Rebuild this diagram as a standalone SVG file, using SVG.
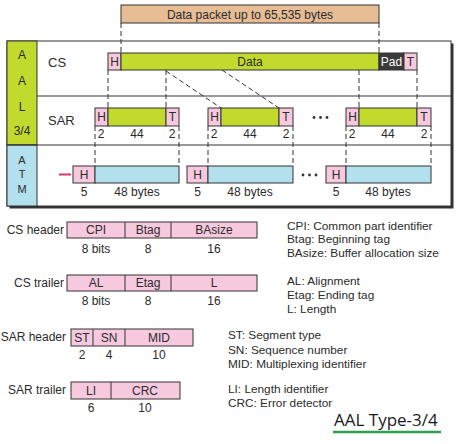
<svg xmlns="http://www.w3.org/2000/svg" width="462" height="444" viewBox="0 0 462 444">
<defs>
<style>
text{font-family:"Liberation Sans",Arial,sans-serif;fill:#2b2b2b;dominant-baseline:central;}
.c{text-anchor:middle;}
.e{text-anchor:end;}
.f12{font-size:12px;}
.f11{font-size:11.8px;}
.f13{font-size:13px;}
.pk{fill:#f6c9de;stroke:#333;stroke-width:1;}
.gr{fill:#c2d92e;stroke:#333;stroke-width:1;}
.bl{fill:#b2e0ec;stroke:#333;stroke-width:1;}
.dk{fill:#3b3b3b;stroke:#333;stroke-width:1;}
.dash{stroke:#333;stroke-width:1;stroke-dasharray:5 3;fill:none;}
.ln{stroke:#333;stroke-width:1;fill:none;}
</style>
</defs>
<rect width="462" height="444" fill="#fff"/>

<g id="packet">
<rect x="121" y="5" width="258" height="18" fill="#e7bd95" stroke="#333" stroke-width="1"/>
<text class="c f12" x="250" y="15">Data packet up to 65,535 bytes</text>
</g>

<g id="frame">
<rect x="9.5" y="43.5" width="444" height="165" fill="#333"/>
<rect x="7" y="41" width="444" height="165" fill="#fff" stroke="#333" stroke-width="1"/>
<rect x="7" y="41" width="30" height="104" fill="#c2d92e" stroke="#333" stroke-width="1"/>
<rect x="7" y="145" width="30" height="61" fill="#b2e0ec" stroke="#333" stroke-width="1"/>
<line class="ln" x1="37" y1="96" x2="451" y2="96"/>
<line class="ln" x1="7" y1="145" x2="451" y2="145"/>
<text class="c f12" x="22" y="55">A</text>
<text class="c f12" x="22" y="81">A</text>
<text class="c f12" x="22" y="107">L</text>
<text class="c f12" x="22" y="131">3/4</text>
<text class="c" style="font-size:11px" x="22" y="160">A</text>
<text class="c" style="font-size:11px" x="22" y="174">T</text>
<text class="c" style="font-size:11px" x="22" y="188.5">M</text>
<text class="f13" x="48" y="62">CS</text>
<text class="f13" x="48" y="120">SAR</text>
</g>

<g id="connectors">
<line class="dash" x1="121" y1="23" x2="121" y2="53"/>
<line class="dash" x1="379" y1="23" x2="379" y2="53"/>
<line class="dash" x1="108" y1="70" x2="108" y2="108"/>
<line class="dash" x1="166" y1="70" x2="166" y2="108"/>
<line class="dash" x1="166" y1="71" x2="221" y2="108"/>
<line class="dash" x1="222" y1="70" x2="279" y2="108"/>
<line class="dash" x1="359" y1="70" x2="359" y2="108"/>
<line class="dash" x1="417" y1="70" x2="417" y2="108"/>
<line class="dash" x1="95" y1="126" x2="95" y2="166"/>
<line class="dash" x1="179" y1="126" x2="179" y2="166"/>
<line class="dash" x1="208" y1="126" x2="208" y2="166"/>
<line class="dash" x1="293" y1="126" x2="293" y2="166"/>
<line class="dash" x1="346" y1="126" x2="346" y2="166"/>
<line class="dash" x1="431" y1="126" x2="431" y2="166"/>
<line x1="59" y1="174.5" x2="71" y2="174.5" stroke="#d6336c" stroke-width="2"/>
</g>

<g id="cs-bar">
<rect class="pk" x="108" y="53" width="13" height="17"/>
<rect class="gr" x="121" y="53" width="258" height="17"/>
<rect class="dk" x="379" y="53" width="25" height="17"/>
<rect class="pk" x="404" y="53" width="13" height="17"/>
<text class="c f12" x="114.5" y="61.5">H</text>
<text class="c f12" x="250" y="61.5">Data</text>
<text class="c f12" x="391.5" y="61.5" style="fill:#fff">Pad</text>
<text class="c f12" x="410.5" y="61.5">T</text>
</g>

<g id="sar-seg1">
<rect class="pk" x="95" y="108" width="13" height="18"/>
<rect class="gr" x="108" y="108" width="58" height="18"/>
<rect class="pk" x="166" y="108" width="13" height="18"/>
<text class="c f12" x="101.5" y="117">H</text>
<text class="c f12" x="172.5" y="117">T</text>
<text class="c f12" x="101" y="134">2</text>
<text class="c f12" x="137" y="134">44</text>
<text class="c f12" x="172" y="134">2</text>
</g>
<g id="sar-seg2">
<rect class="pk" x="208" y="108" width="13" height="18"/>
<rect class="gr" x="221" y="108" width="58" height="18"/>
<rect class="pk" x="279" y="108" width="14" height="18"/>
<text class="c f12" x="214.5" y="117">H</text>
<text class="c f12" x="286" y="117">T</text>
<text class="c f12" x="214" y="134">2</text>
<text class="c f12" x="250" y="134">44</text>
<text class="c f12" x="286" y="134">2</text>
</g>
<g id="sar-dots">
<circle cx="314" cy="117.5" r="1.4" fill="#333"/>
<circle cx="320.5" cy="117.5" r="1.4" fill="#333"/>
<circle cx="327" cy="117.5" r="1.4" fill="#333"/>
</g>
<g id="sar-seg3">
<rect class="pk" x="346" y="108" width="13" height="18"/>
<rect class="gr" x="359" y="108" width="58" height="18"/>
<rect class="pk" x="417" y="108" width="14" height="18"/>
<text class="c f12" x="352.5" y="117">H</text>
<text class="c f12" x="424" y="117">T</text>
<text class="c f12" x="352" y="134">2</text>
<text class="c f12" x="388" y="134">44</text>
<text class="c f12" x="424" y="134">2</text>
</g>

<g id="atm-cell1">
<rect class="pk" x="73" y="166" width="22" height="17"/>
<rect class="bl" x="95" y="166" width="84" height="17"/>
<text class="c f12" x="84" y="174.5">H</text>
<text class="c f12" x="84" y="192">5</text>
<text class="c f12" x="137" y="192">48 bytes</text>
</g>
<g id="atm-cell2">
<rect class="pk" x="187" y="166" width="21" height="17"/>
<rect class="bl" x="208" y="166" width="85" height="17"/>
<text class="c f12" x="197.5" y="174.5">H</text>
<text class="c f12" x="197.5" y="192">5</text>
<text class="c f12" x="250" y="192">48 bytes</text>
</g>
<g id="atm-dots">
<circle cx="303" cy="175" r="1.4" fill="#333"/>
<circle cx="309.5" cy="175" r="1.4" fill="#333"/>
<circle cx="316" cy="175" r="1.4" fill="#333"/>
</g>
<g id="atm-cell3">
<rect class="pk" x="326" y="166" width="20" height="17"/>
<rect class="bl" x="346" y="166" width="85" height="17"/>
<text class="c f12" x="336" y="174.5">H</text>
<text class="c f12" x="336" y="192">5</text>
<text class="c f12" x="388" y="192">48 bytes</text>
</g>

<g id="cs-header">
<text class="e f12" x="64" y="230">CS header</text>
<rect class="pk" x="67" y="222" width="190" height="16"/>
<line class="ln" x1="125" y1="222" x2="125" y2="238"/>
<line class="ln" x1="171" y1="222" x2="171" y2="238"/>
<text class="c f12" x="96" y="230">CPI</text>
<text class="c f12" x="148" y="230">Btag</text>
<text class="c f12" x="214" y="230">BAsize</text>
<text class="c f12" x="96" y="249">8 bits</text>
<text class="c f12" x="148" y="249">8</text>
<text class="c f12" x="214" y="249">16</text>
</g>
<g id="cs-trailer">
<text class="e f12" x="64" y="283">CS trailer</text>
<rect class="pk" x="67" y="275" width="190" height="16"/>
<line class="ln" x1="125" y1="275" x2="125" y2="291"/>
<line class="ln" x1="171" y1="275" x2="171" y2="291"/>
<text class="c f12" x="96" y="283">AL</text>
<text class="c f12" x="148" y="283">Etag</text>
<text class="c f12" x="214" y="283">L</text>
<text class="c f12" x="96" y="301">8 bits</text>
<text class="c f12" x="148" y="301">8</text>
<text class="c f12" x="214" y="301">16</text>
</g>
<g id="sar-header">
<text class="e f12" x="66" y="337">SAR header</text>
<rect class="pk" x="71" y="329" width="122" height="17"/>
<line class="ln" x1="93" y1="329" x2="93" y2="346"/>
<line class="ln" x1="125" y1="329" x2="125" y2="346"/>
<text class="c f12" x="82" y="337.5">ST</text>
<text class="c f12" x="109" y="337.5">SN</text>
<text class="c f12" x="159" y="337.5">MID</text>
<text class="c f12" x="82" y="355">2</text>
<text class="c f12" x="109" y="355">4</text>
<text class="c f12" x="159" y="355">10</text>
</g>
<g id="sar-trailer">
<text class="e f12" x="66" y="390">SAR trailer</text>
<rect class="pk" x="71" y="382" width="109" height="17"/>
<line class="ln" x1="111" y1="382" x2="111" y2="399"/>
<text class="c f12" x="91" y="390.5">LI</text>
<text class="c f12" x="145" y="390.5">CRC</text>
<text class="c f12" x="91" y="408">6</text>
<text class="c f12" x="145" y="408">10</text>
</g>

<g id="legend">
<text class="f11" x="287" y="226">CPI: Common part identifier</text>
<text class="f11" x="287" y="239">Btag: Beginning tag</text>
<text class="f11" x="287" y="253">BAsize: Buffer allocation size</text>
<text class="f11" x="287" y="281">AL: Alignment</text>
<text class="f11" x="287" y="295">Etag: Ending tag</text>
<text class="f11" x="287" y="309">L: Length</text>
<text class="f11" x="228" y="335">ST: Segment type</text>
<text class="f11" x="228" y="350">SN: Sequence number</text>
<text class="f11" x="228" y="364">MID: Multiplexing identifier</text>
<text class="f11" x="228" y="389">LI: Length identifier</text>
<text class="f11" x="228" y="403">CRC: Error detector</text>
</g>

<g id="title">
<text x="334" y="419.5" style="font-family:'Open Sans','Liberation Sans',sans-serif;font-size:17px;fill:#1a1a1a">AAL Type-3/4</text>
<line x1="333" y1="432" x2="441" y2="432" stroke="#2ea04f" stroke-width="2.5"/>
</g>
</svg>
